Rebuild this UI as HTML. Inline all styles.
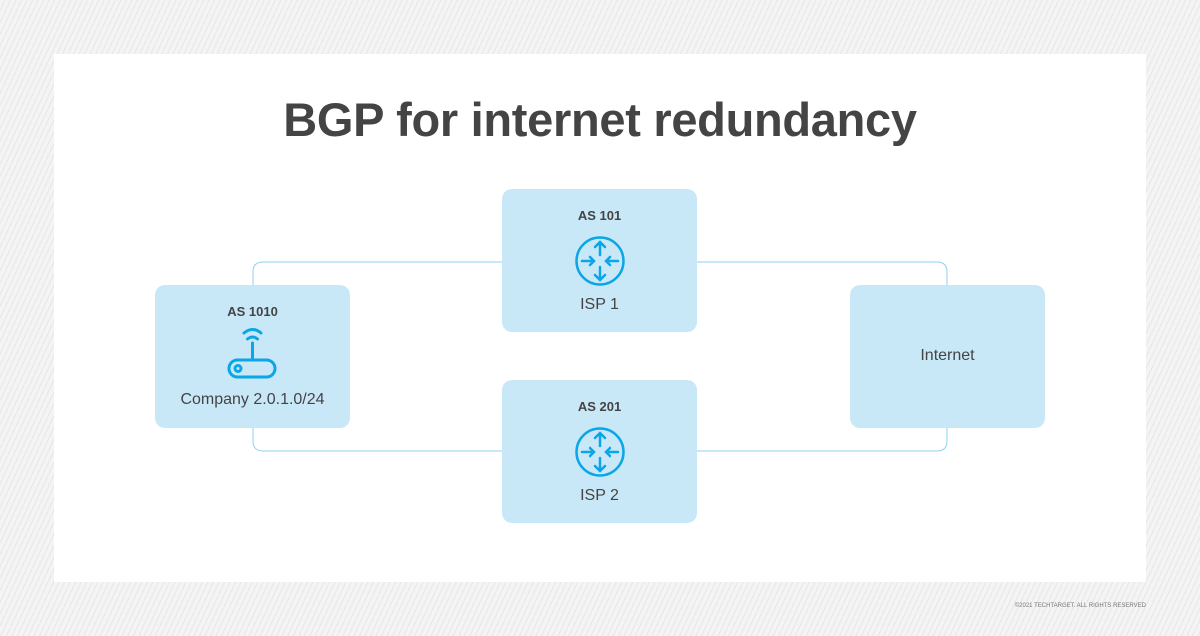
<!DOCTYPE html>
<html><head><style>
body{margin:0;width:1200px;height:636px;overflow:hidden;font-family:"Liberation Sans",sans-serif;
background:#f4f4f4 repeating-linear-gradient(115deg,#f4f4f4 0 4px,#e6e6e6 4px 5px);position:relative}
.panel{position:absolute;left:54px;top:54px;width:1092px;height:528px;background:#fff}
.box{position:absolute;width:195px;height:143px;background:#c8e8f8;border-radius:10px;color:#444;text-align:center}
.t{position:absolute;left:0;right:0;font-weight:bold;font-size:13px}
.l{position:absolute;left:0;right:0;font-size:16px}
h1{position:absolute;left:0;width:1200px;top:92px;margin:0;text-align:center;font-size:47px;color:#444;font-weight:bold;letter-spacing:-0.3px}
.c{position:absolute;right:54px;top:603px;font-size:6px;color:#777}
</style></head><body>
<div class="panel"></div>
<h1>BGP for internet redundancy</h1>
<svg style="position:absolute;left:0;top:0" width="1200" height="636">
<path d="M253 285 V272 Q253 262 263 262 H937 Q947 262 947 272 V285" fill="none" stroke="#8fd0f0" stroke-width="1"/>
<path d="M253 428 V441 Q253 451 263 451 H937 Q947 451 947 441 V428" fill="none" stroke="#8fd0f0" stroke-width="1"/>
</svg>
<div class="box" style="left:155px;top:285px">
<div class="t" style="top:19px">AS 1010</div>
<svg style="position:absolute;left:70px;top:40px" width="55" height="58" fill="none" stroke="#0aa6e6" stroke-width="3" stroke-linecap="round">
<path d="M19 8 Q27.5 1 36 8"/><path d="M22.5 14 Q27.5 10 32.5 14"/><path d="M27.5 18 V35"/>
<rect x="4" y="35" width="46" height="17" rx="8.5"/><circle cx="13" cy="43.5" r="3"/></svg>
<div class="l" style="top:106px">Company 2.0.1.0/24</div></div>
<div class="box" style="left:502px;top:189px">
<div class="t" style="top:19px">AS 101</div>
<svg style="position:absolute;left:72px;top:46px" width="52" height="52" fill="none" stroke="#0aa6e6" stroke-width="2.5" stroke-linecap="round"><circle cx="26" cy="26" r="23.5"/>
<path d="M26 7V20M21 12L26 7L31 12M26 32V45M21 40L26 45L31 40M8 26H20M16 22L20 26L16 30M44 26H32M36 22L32 26L36 30"/></svg>
<div class="l" style="top:107px">ISP 1</div></div>
<div class="box" style="left:502px;top:380px">
<div class="t" style="top:19px">AS 201</div>
<svg style="position:absolute;left:72px;top:46px" width="52" height="52" fill="none" stroke="#0aa6e6" stroke-width="2.5" stroke-linecap="round"><circle cx="26" cy="26" r="23.5"/>
<path d="M26 7V20M21 12L26 7L31 12M26 32V45M21 40L26 45L31 40M8 26H20M16 22L20 26L16 30M44 26H32M36 22L32 26L36 30"/></svg>
<div class="l" style="top:107px">ISP 2</div></div>
<div class="box" style="left:850px;top:285px"><div class="l" style="top:62px">Internet</div></div>
<div class="c">©2021 TECHTARGET. ALL RIGHTS RESERVED</div>
</body></html>
